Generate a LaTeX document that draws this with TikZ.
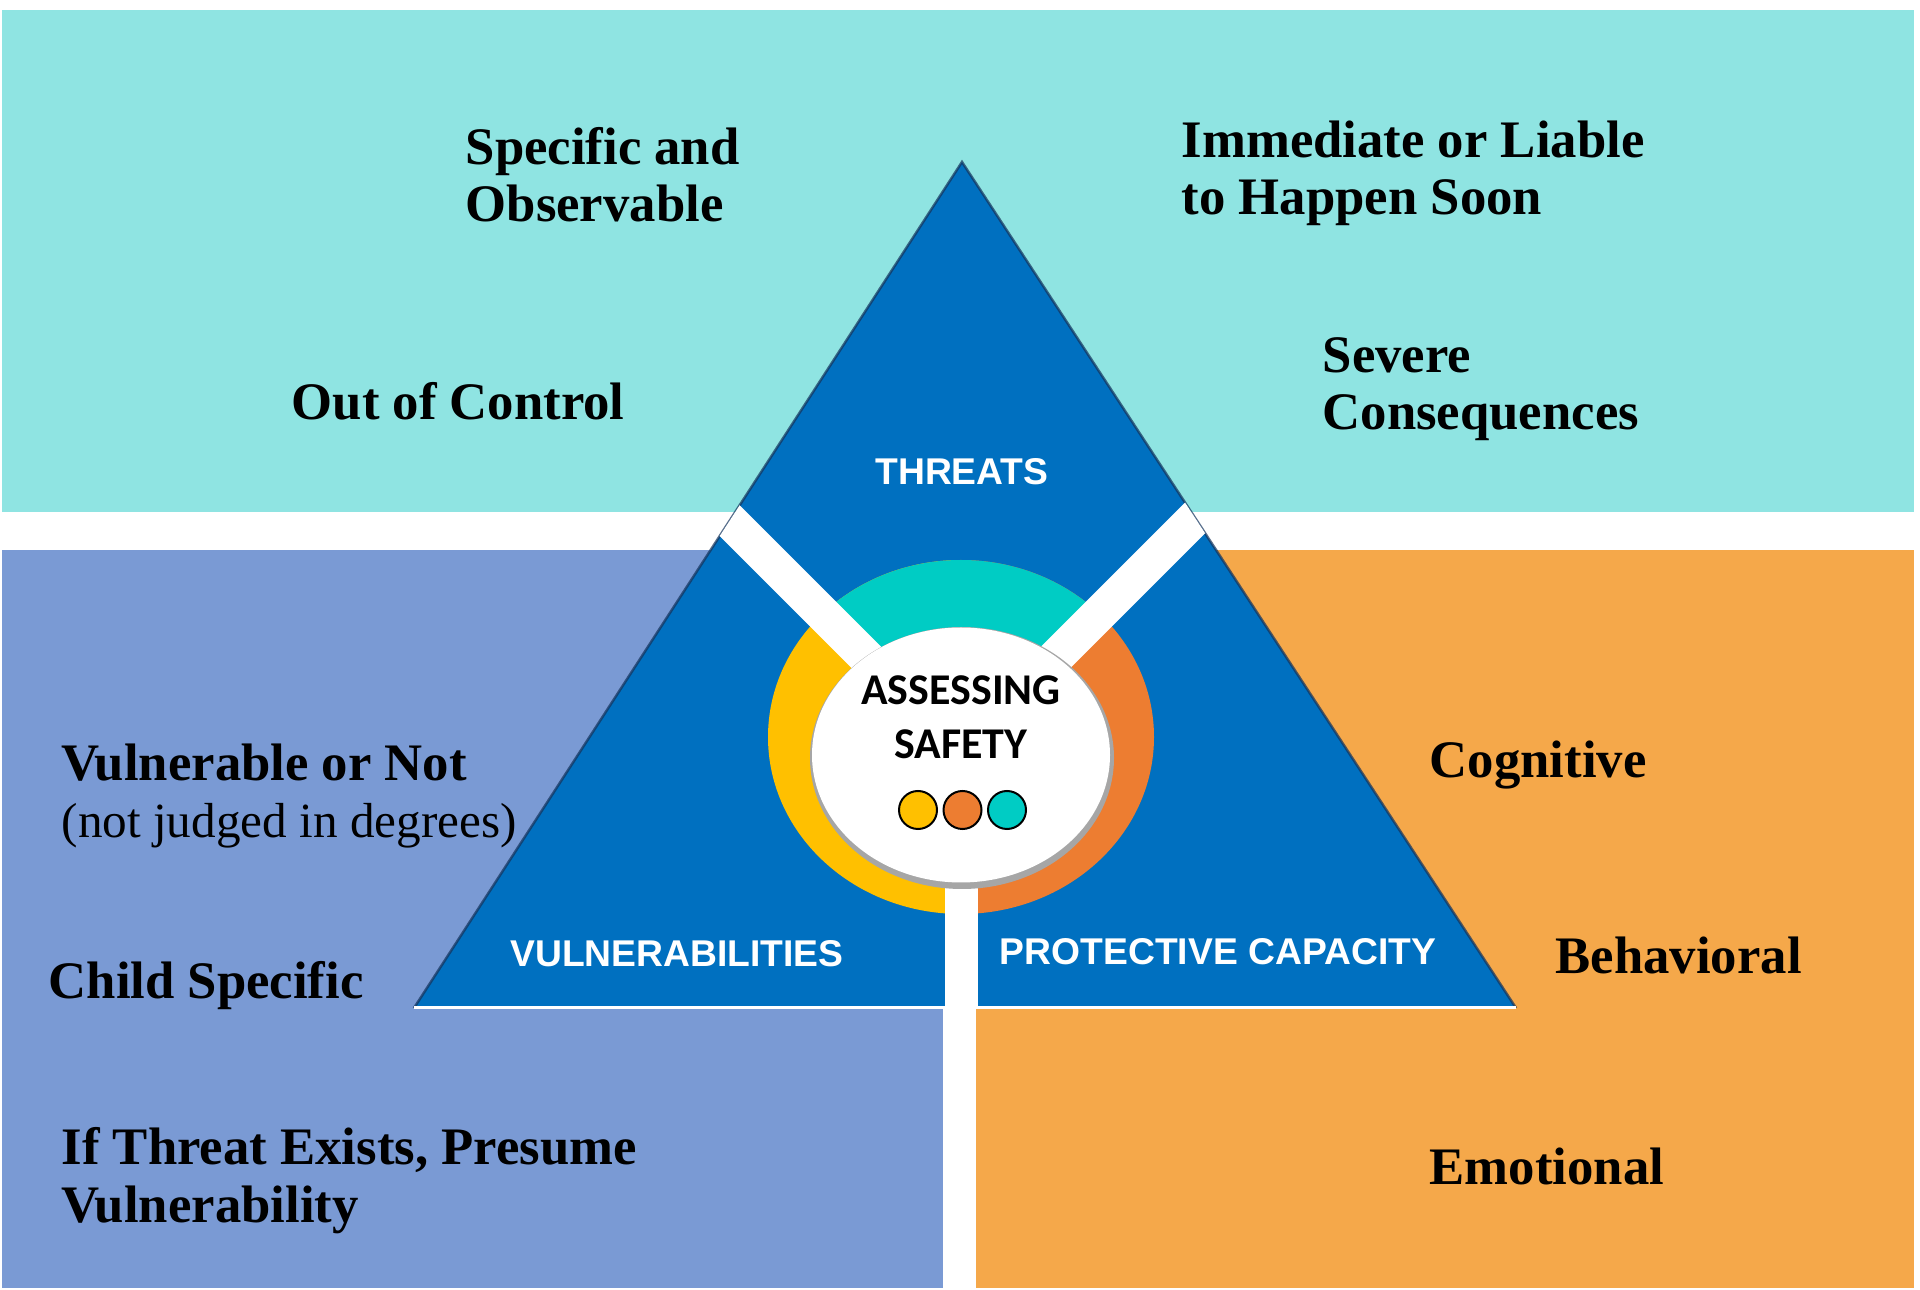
\documentclass[tikz,border=0pt]{standalone}
\usepackage{fontspec}
\setmainfont{Liberation Serif}
\newfontfamily\labelfont{Liberation Sans}
\newfontfamily\hubfont{Carlito}
\usepackage{tikz}
\usetikzlibrary{calc}
\usetikzlibrary{positioning}

\definecolor{threatbg}{RGB}{143,228,226}
\definecolor{vulnbg}{RGB}{122,154,212}
\definecolor{protbg}{RGB}{245,168,74}
\definecolor{triblue}{RGB}{0,112,192}
\definecolor{triedge}{RGB}{20,50,90}
\definecolor{ringteal}{RGB}{0,204,196}
\definecolor{ringyel}{RGB}{255,192,0}
\definecolor{ringorg}{RGB}{237,125,49}

\begin{document}
\begin{tikzpicture}[x=0.1mm,y=-0.1mm,
  point/.style={anchor=base west,inner sep=0pt,align=left,font=\fontsize{15}{16.3}\selectfont\bfseries},
  side/.style={anchor=base,inner sep=0pt,text=white,font=\labelfont\fontsize{10.6}{12}\selectfont\bfseries},
  bar/.style={white,line width=3.6mm},
  dot/.style={circle,draw=black,line width=0.2mm,minimum size=3.8mm,inner sep=0pt,outer sep=0pt}]
  \useasboundingbox (0,0) rectangle (1920,1290);
  \fill[white] (0,0) rectangle (1920,1290);
  \fill[threatbg] (2,10) rectangle (1914,512);
  \fill[vulnbg] (2,550) rectangle (943,1288);
  \fill[protbg] (976,550) rectangle (1914,1288);

  \coordinate (apex) at (962,162);
  \coordinate (bl) at (414,1008);
  \coordinate (br) at (1516,1008);
  \coordinate (hubc) at (961,752);

  \fill[triblue] (apex) -- (bl) -- (br) -- cycle;
  \draw[triedge,line width=0.25mm,opacity=0.7] (bl) -- (apex) -- (br);
  \draw[white,line width=0.3mm] (bl) -- (br);

  \begin{scope}
    \clip (961,737) ellipse (19.3mm and 17.7mm);
    \fill[ringyel] (961,500) rectangle (700,1000);
    \fill[ringorg] (961,500) rectangle (1220,1000);
    \fill[ringteal] (hubc) -- ($(hubc)+(-135:400)$) -- ($(hubc)+(-45:400)$) -- cycle;
  \end{scope}

  \begin{scope}
    \clip (apex) -- (bl) -- (br) -- cycle;
    \draw[bar] (hubc) -- ++(-135:500);
    \draw[bar] (hubc) -- ++(-45:500);
    \draw[bar,line width=3.3mm] (hubc) -- ++(0,400);
  \end{scope}

  \fill[black!35] (962,758) ellipse (15.2mm and 13.1mm);
  \fill[white] (961,755) ellipse (14.9mm and 12.75mm);

  \node[anchor=base,align=center,inner sep=0pt,font=\hubfont\fontsize{12.5}{15.4}\selectfont\bfseries] (hub) at (961,759) {ASSESSING\\SAFETY};
  \node[dot,fill=ringyel] (dotY) at (918,810) {};
  \node[dot,fill=ringorg,right=0.65mm of dotY] (dotO) {};
  \node[dot,fill=ringteal,right=0.65mm of dotO] (dotT) {};

  \node[side] (threats) at (962,485) {THREATS};
  \node[side] (vulns) at (677,967) {VULNERABILITIES};
  \node[side] (protcap) at (1218,965) {PROTECTIVE CAPACITY};

  \node[point] (specific) at (465,222) {Specific and\\Observable};
  \node[point] (immediate) at (1181,215) {Immediate or Liable\\to Happen Soon};
  \node[point] (outctl) at (291,420) {Out of Control};
  \node[point] (severe) at (1322,430) {Severe\\Consequences};
  \node[point] (vulnot) at (61,838) {Vulnerable or Not\\{\mdseries\fontsize{14}{15}\selectfont(not judged in degrees)}};
  \node[point] (childspec) at (48,999) {Child Specific};
  \node[point] (ifthreat) at (61,1222) {If Threat Exists, Presume\\Vulnerability};
  \node[point] (cognitive) at (1429,778) {Cognitive};
  \node[point] (behavioral) at (1555,974) {Behavioral};
  \node[point] (emotional) at (1429,1185) {Emotional};
\end{tikzpicture}
\end{document}
